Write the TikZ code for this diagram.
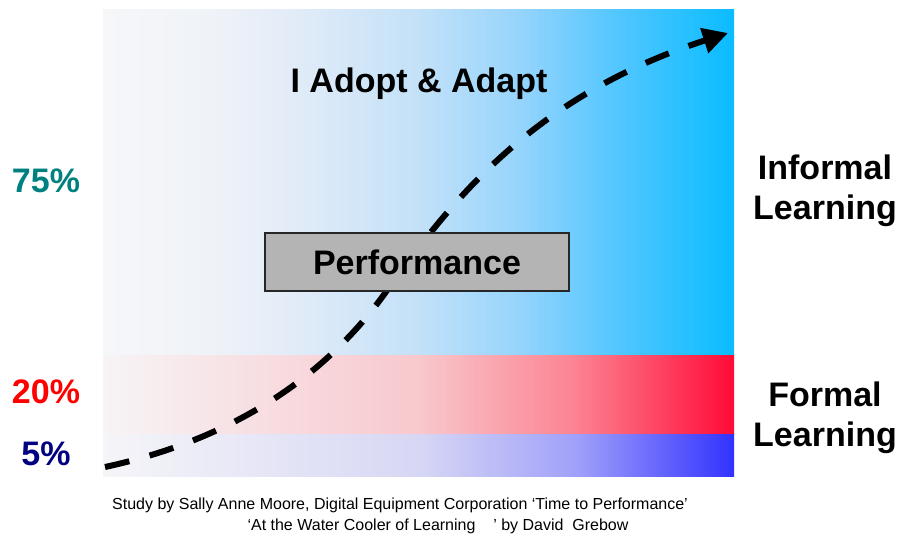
\documentclass[tikz,border=0pt]{standalone}
\usepackage{fontspec}
\setmainfont{Liberation Sans}
\usetikzlibrary{arrows.meta}
\definecolor{bi0}{RGB}{246,247,249}
\definecolor{bi1}{RGB}{238,242,248}
\definecolor{bi2}{RGB}{225,235,248}
\definecolor{bi3}{RGB}{195,225,248}
\definecolor{bi4}{RGB}{150,212,252}
\definecolor{bi5}{RGB}{80,198,255}
\definecolor{bi6}{RGB}{10,188,255}
\definecolor{rf0}{RGB}{247,244,246}
\definecolor{rf1}{RGB}{248,200,205}
\definecolor{rf2}{RGB}{252,130,145}
\definecolor{rf3}{RGB}{255,10,55}
\definecolor{bf0}{RGB}{245,245,248}
\definecolor{bf1}{RGB}{215,215,245}
\definecolor{bf2}{RGB}{160,160,250}
\definecolor{bf3}{RGB}{50,50,255}
\definecolor{tealc}{RGB}{0,128,128}
\definecolor{redc}{RGB}{255,0,0}
\definecolor{navyc}{RGB}{0,0,128}
\definecolor{boxgray}{RGB}{180,180,180}
\pgfdeclarehorizontalshading{informalsh}{100bp}{color(0bp)=(bi0); color(25bp)=(bi0); color(34.5bp)=(bi1); color(40.5bp)=(bi2); color(50bp)=(bi3); color(58bp)=(bi4); color(66bp)=(bi5); color(75bp)=(bi6); color(100bp)=(bi6)}
\pgfdeclarehorizontalshading{redsh}{100bp}{color(0bp)=(rf0); color(25bp)=(rf0); color(50bp)=(rf1); color(62.5bp)=(rf2); color(75bp)=(rf3); color(100bp)=(rf3)}
\pgfdeclarehorizontalshading{bluesh}{100bp}{color(0bp)=(bf0); color(25bp)=(bf0); color(50bp)=(bf1); color(62.5bp)=(bf2); color(75bp)=(bf3); color(100bp)=(bf3)}
\tikzset{
  bigtxt/.style={font=\fontsize{34}{40}\selectfont\bfseries, inner sep=0pt},
  pct/.style={bigtxt, anchor=base},
  sidelbl/.style={bigtxt, align=center, anchor=center},
  foot/.style={font=\fontsize{16}{18}\selectfont, inner sep=0pt, anchor=base},
  perfbox/.style={draw=black!85, line width=1.3pt, fill=boxgray, minimum width=304pt, minimum height=58pt, inner sep=0pt, font=\fontsize{34}{40}\selectfont\bfseries},
  curve/.style={line width=6pt, dash pattern=on 25pt off 21pt, -{Triangle[length=25pt,width=25pt]}}
}
\begin{document}
\begin{tikzpicture}[x=1pt,y=-1pt]
\useasboundingbox (0,0) rectangle (899,538);
% backgrounds
\shade[shading=informalsh] (103,9) rectangle (734,355);
\shade[shading=redsh] (103,355) rectangle (734,434);
\shade[shading=bluesh] (103,434) rectangle (734,476);
% curve
\coordinate (cs) at (105,467);
\coordinate (cm) at (380,300);
\coordinate (ce) at (728,33);
\draw[curve] (cs) .. controls (230,440) and (320,380) .. (cm) .. controls (440,218) and (520,100) .. (ce);
% box
\node[perfbox] (perf) at (417,262) {Performance};
% texts
\node[bigtxt, anchor=base] (adopt) at (419,92) {I Adopt \& Adapt};
\node[pct, text=tealc] (p75) at (46,192) {75\%};
\node[pct, text=redc] (p20) at (46,403) {20\%};
\node[pct, text=navyc] (p5) at (46,465) {5\%};
\node[sidelbl] (inf) at (825,191) {Informal\\Learning};
\node[sidelbl] (form) at (825,418) {Formal\\Learning};
\node[foot] (f1) at (400,509) {Study by Sally Anne Moore, Digital Equipment Corporation ‘Time to Performance’};
\node[foot] (f2) at (438,530) {‘At the Water Cooler of Learning\ \ \ \ ’ by David\ \ Grebow};
\end{tikzpicture}
\end{document}
